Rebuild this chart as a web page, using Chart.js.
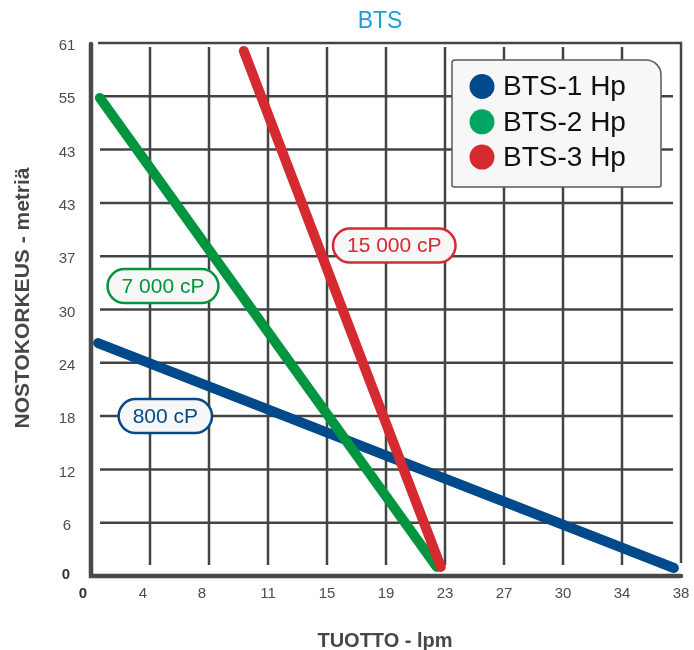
<!DOCTYPE html>
<html>
<head>
<meta charset="utf-8">
<title>BTS</title>
<script src="https://cdn.jsdelivr.net/npm/chart.js@4/dist/chart.umd.min.js"></script>
<style>
  html, body { margin: 0; padding: 0; background: #fff; }
  #wrap { width: 694px; height: 650px; }
</style>
</head>
<body>
<div id="wrap"><canvas id="myChart" width="694" height="650"></canvas></div>
<script>
// tick labels, one per grid step (the source axis labels are not evenly valued)
const xTickLabels = ['0', '4', '8', '11', '15', '19', '23', '27', '30', '34', '38'];
const yTickLabels = ['0', '6', '12', '18', '24', '30', '37', '43', '43', '55', '61'];

// series, in grid steps
const seriesNames = ['BTS-1 Hp', 'BTS-2 Hp', 'BTS-3 Hp'];
const bts1X = [0.12, 9.88];
const bts1Y = [4.37, 0.15];
const bts2X = [0.15, 5.86];
const bts2Y = [8.97, 0.17];
const bts3X = [2.59, 5.93];
const bts3Y = [9.85, 0.17];

// viscosity tags
const tagTexts = ['800 cP', '7 000 cP', '15 000 cP'];

const lineColors = ['#004a8c', '#00953e', '#d42a30'];
const dotColors = ['#004a8c', '#00a561', '#d42a30'];
const tagPos = [[1.26, 3.0], [1.22, 5.44], [5.14, 6.2]];

const FONT = '"Liberation Sans", Arial, sans-serif';
const GRID = '#444444';

function toPoints(xs, ys) {
  return xs.map((x, i) => ({ x: x, y: ys[i] }));
}

function roundBox(ctx, x, y, w, h, r) {
  // r = [tl, tr, br, bl]
  ctx.beginPath();
  ctx.moveTo(x + r[0], y);
  ctx.lineTo(x + w - r[1], y);
  ctx.arcTo(x + w, y, x + w, y + r[1], r[1]);
  ctx.lineTo(x + w, y + h - r[2]);
  ctx.arcTo(x + w, y + h, x + w - r[2], y + h, r[2]);
  ctx.lineTo(x + r[3], y + h);
  ctx.arcTo(x, y + h, x, y + h - r[3], r[3]);
  ctx.lineTo(x, y + r[0]);
  ctx.arcTo(x, y, x + r[0], y, r[0]);
  ctx.closePath();
}

const frame = {
  id: 'frame',
  beforeDatasetsDraw(chart) {
    const ctx = chart.ctx;
    const xs = chart.scales.x, ys = chart.scales.y;
    const a = chart.chartArea;
    ctx.save();

    // grid
    ctx.strokeStyle = GRID;
    ctx.lineWidth = 2.5;
    for (let i = 1; i < xTickLabels.length - 1; i++) {
      const px = xs.getPixelForValue(i);
      ctx.beginPath();
      ctx.moveTo(px, a.top + 4);
      ctx.lineTo(px, a.bottom - 11);
      ctx.stroke();
    }
    for (let i = 1; i < yTickLabels.length - 1; i++) {
      const py = ys.getPixelForValue(i);
      ctx.beginPath();
      ctx.moveTo(a.left + 9, py);
      ctx.lineTo(a.right - 8, py);
      ctx.stroke();
    }
    // top + right border
    ctx.beginPath();
    ctx.moveTo(a.left + 7, a.top);
    ctx.lineTo(a.right, a.top);
    ctx.lineTo(a.right, a.bottom - 13);
    ctx.stroke();

    // axes
    ctx.strokeStyle = '#4a4a4a';
    ctx.lineWidth = 4.5;
    ctx.lineCap = 'round';
    ctx.beginPath();
    ctx.moveTo(a.left, a.top + 1);
    ctx.lineTo(a.left, a.bottom);
    ctx.lineTo(a.right, a.bottom);
    ctx.stroke();

    // tick labels
    ctx.fillStyle = '#4d4d4d';
    ctx.textAlign = 'center';
    ctx.textBaseline = 'middle';
    yTickLabels.forEach((t, i) => {
      const py = ys.getPixelForValue(i);
      if (i === 0) {
        ctx.font = 'bold 15px ' + FONT;
        ctx.fillStyle = '#333';
        ctx.fillText(t, 66, py - 1);
      } else {
        ctx.font = '15px ' + FONT;
        ctx.fillStyle = '#4d4d4d';
        ctx.fillText(t, 67, py + 3);
      }
    });
    xTickLabels.forEach((t, i) => {
      const px = xs.getPixelForValue(i);
      if (i === 0) {
        ctx.font = 'bold 15px ' + FONT;
        ctx.fillStyle = '#333';
        ctx.fillText(t, px - 8, 594);
      } else {
        ctx.font = '15px ' + FONT;
        ctx.fillStyle = '#4d4d4d';
        ctx.fillText(t, px - (i < 3 ? 7 : 0), 594);
      }
    });

    // axis titles
    ctx.fillStyle = '#474747';
    ctx.font = 'bold 20px ' + FONT;
    ctx.textBaseline = 'alphabetic';
    ctx.fillText('TUOTTO - lpm', 385, 647);
    ctx.save();
    ctx.translate(29, 298);
    ctx.rotate(-Math.PI / 2);
    ctx.font = 'bold 21px ' + FONT;
    ctx.fillText('NOSTOKORKEUS - metriä', 0, 0);
    ctx.restore();

    // title
    ctx.fillStyle = '#1ba0db';
    ctx.font = '23px ' + FONT;
    ctx.textBaseline = 'middle';
    ctx.fillText('BTS', 380, 22);

    ctx.restore();
  },
  afterDatasetsDraw(chart) {
    const ctx = chart.ctx;
    const xs = chart.scales.x, ys = chart.scales.y;
    ctx.save();

    // viscosity tags
    ctx.font = '21px ' + FONT;
    ctx.textAlign = 'center';
    ctx.textBaseline = 'middle';
    tagTexts.forEach((t, i) => {
      const cx = xs.getPixelForValue(tagPos[i][0]);
      const cy = ys.getPixelForValue(tagPos[i][1]);
      const w = ctx.measureText(t).width + 28;
      const h = 34;
      roundBox(ctx, cx - w / 2, cy - h / 2, w, h, [17, 17, 17, 17]);
      ctx.fillStyle = '#f7f7f7';
      ctx.fill();
      ctx.strokeStyle = lineColors[i];
      ctx.lineWidth = 2.5;
      ctx.stroke();
      ctx.fillStyle = lineColors[i];
      ctx.fillText(t, cx, cy + 1);
    });

    // legend
    const lx = 452, ly = 60, lw = 209, lh = 127;
    roundBox(ctx, lx, ly, lw, lh, [3, 15, 2, 2]);
    ctx.fillStyle = '#f7f7f7';
    ctx.fill();
    ctx.strokeStyle = '#5a5a5a';
    ctx.lineWidth = 1.5;
    ctx.stroke();
    ctx.font = '28px ' + FONT;
    ctx.textAlign = 'left';
    chart.data.datasets.forEach((ds, i) => {
      const cy = 86.5 + i * 35.3;
      ctx.beginPath();
      ctx.arc(482, cy, 12.5, 0, Math.PI * 2);
      ctx.fillStyle = dotColors[i];
      ctx.fill();
      ctx.fillStyle = '#111';
      ctx.fillText(ds.label, 503, cy + 1);
    });

    ctx.restore();
  }
};

new Chart(document.getElementById('myChart'), {
  type: 'line',
  data: {
    datasets: [
      { label: seriesNames[0], data: toPoints(bts1X, bts1Y), borderColor: lineColors[0], order: 3 },
      { label: seriesNames[1], data: toPoints(bts2X, bts2Y), borderColor: lineColors[1], order: 2 },
      { label: seriesNames[2], data: toPoints(bts3X, bts3Y), borderColor: lineColors[2], order: 1 }
    ]
  },
  options: {
    responsive: false,
    animation: false,
    layout: { padding: { left: 91, right: 13, top: 43, bottom: 74 } },
    datasets: {
      line: {
        borderWidth: 10,
        borderCapStyle: 'round',
        borderJoinStyle: 'round',
        pointRadius: 0,
        fill: false,
        tension: 0,
        clip: false
      }
    },
    scales: {
      x: { type: 'linear', min: 0, max: 10, display: false },
      y: { type: 'linear', min: 0, max: 10, display: false }
    },
    plugins: {
      legend: { display: false },
      title: { display: false },
      tooltip: { enabled: false }
    }
  },
  plugins: [frame]
});
</script>
</body>
</html>
